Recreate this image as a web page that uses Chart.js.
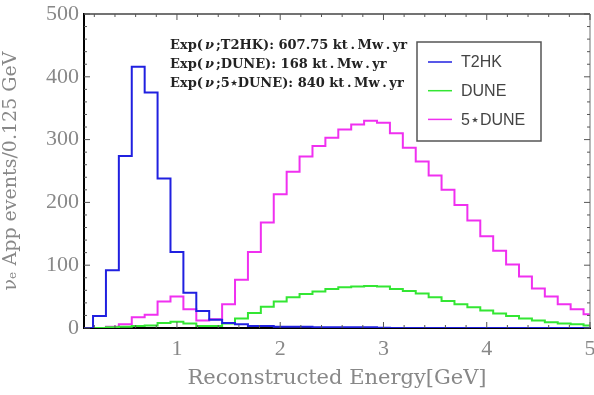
<!DOCTYPE html>
<html>
<head>
<meta charset="utf-8">
<script src="https://cdn.jsdelivr.net/npm/chart.js@4"></script>
<style>
  html, body { margin: 0; padding: 0; background: #fff; }
</style>
</head>
<body>
<canvas id="chart" width="594" height="395"></canvas>
<script>
// bin centres (GeV), bin width 0.125
const energies = [0.125, 0.25, 0.375, 0.5, 0.625, 0.75, 0.875, 1.0, 1.125, 1.25,
  1.375, 1.5, 1.625, 1.75, 1.875, 2.0, 2.125, 2.25, 2.375, 2.5,
  2.625, 2.75, 2.875, 3.0, 3.125, 3.25, 3.375, 3.5, 3.625, 3.75,
  3.875, 4.0, 4.125, 4.25, 4.375, 4.5, 4.625, 4.75, 4.875, 5.0];

const t2hk = [0, 19, 92, 274, 416, 375, 238, 121, 56, 27,
  13, 8, 6, 3, 3, 2, 2, 2, 1, 1,
  1, 1, 1, 0.5, 0, 0, 0, 0, 0, 0,
  0, 0, 0, 0, 0, 0, 0, 0, 0, 0];

const dune = [0, 0, 1, 2, 3, 4, 8, 10, 7, 3,
  3, 7, 15, 24, 34, 42, 49, 54, 58, 62,
  65, 66, 67, 66, 62, 59, 55, 49, 43, 38,
  33, 28, 23, 19, 15, 12, 9, 7, 6, 4];

const dune5 = [0, 0, 2, 6, 17, 21, 42, 50, 30, 12,
  14, 38, 77, 121, 168, 213, 249, 273, 290, 303,
  316, 324, 330, 327, 310, 287, 265, 243, 220, 196,
  171, 146, 123, 101, 82, 63, 50, 38, 30, 22];

const seriesNames = ["T2HK", "DUNE", "5\u22C6DUNE"];
const seriesColors = ["#2020e0", "#33e633", "#f030f0"];
const exposures = [
  ["T2HK", "607.75"],
  ["DUNE", "168"],
  ["5\u22C6DUNE", "840"]
];
const xTicks = [1, 2, 3, 4, 5];
const yTicks = [0, 100, 200, 300, 400, 500];

// turn bin values into step points (left edges + final right edge)
function toSteps(vals) {
  const hw = (energies[1] - energies[0]) / 2;
  const pts = energies.map((e, i) => ({ x: e - hw, y: vals[i] }));
  pts.push({ x: energies[energies.length - 1] + hw, y: vals[vals.length - 1] });
  return pts;
}

const frameTicks = {
  id: "frameTicks",
  afterDatasetsDraw(chart) {
    const { ctx, chartArea: a, scales: { x, y } } = chart;
    ctx.save();
    // top and right frame
    ctx.strokeStyle = "#444";
    ctx.lineWidth = 1.5;
    ctx.beginPath();
    ctx.moveTo(a.left, a.top);
    ctx.lineTo(a.right, a.top);
    ctx.stroke();
    ctx.strokeStyle = "#888";
    ctx.lineWidth = 1.2;
    ctx.beginPath();
    ctx.moveTo(a.right, a.top);
    ctx.lineTo(a.right, a.bottom);
    ctx.stroke();

    // inward ticks
    ctx.strokeStyle = "#555";
    ctx.lineWidth = 1;
    ctx.beginPath();
    for (let k = 0; k <= 25; k++) {
      const py = y.getPixelForValue(k * 20);
      const len = k % 5 === 0 ? 6 : 3;
      ctx.moveTo(a.left, py); ctx.lineTo(a.left + len, py);
      ctx.moveTo(a.right, py); ctx.lineTo(a.right - len, py);
    }
    for (let k = 1; k <= 25; k++) {
      const px = x.getPixelForValue(k * 0.2);
      const len = k % 5 === 0 ? 6 : 3;
      ctx.moveTo(px, a.bottom); ctx.lineTo(px, a.bottom - len);
      ctx.moveTo(px, a.top); ctx.lineTo(px, a.top + len);
    }
    ctx.stroke();
    ctx.restore();
  },
  afterDraw(chart) {
    const ctx = chart.ctx;
    ctx.save();
    // exposure notes
    ctx.fillStyle = "#222";
    ctx.textBaseline = "middle";
    exposures.forEach((e, i) => {
      const ty = 46 + i * 19;
      let tx = 170;
      ctx.font = "bold 13px 'DejaVu Serif'";
      ctx.fillText("Exp(", tx, ty); tx += ctx.measureText("Exp(").width + 2;
      ctx.font = "italic bold 13px 'DejaVu Serif'";
      ctx.fillText("\u03BD", tx, ty); tx += ctx.measureText("\u03BD").width + 2;
      ctx.font = "bold 13px 'DejaVu Serif'";
      ctx.fillText(";" + e[0] + "): " + e[1] + " kt\u2009.\u2009Mw\u2009.\u2009yr", tx, ty);
    });

    // legend box
    ctx.strokeStyle = "#555";
    ctx.lineWidth = 1.5;
    ctx.strokeRect(417, 42, 124, 99);
    ctx.font = "16px 'Liberation Sans'";
    ctx.fillStyle = "#444";
    chart.data.datasets.forEach((ds, i) => {
      const ly = 62 + i * 28.7;
      ctx.strokeStyle = ds.borderColor;
      ctx.lineWidth = 1.5;
      ctx.beginPath();
      ctx.moveTo(428, ly); ctx.lineTo(452, ly);
      ctx.stroke();
      ctx.fillText(ds.label, 461, ly + 1);
    });
    ctx.restore();
  }
};

new Chart(document.getElementById("chart"), {
  type: "line",
  data: {
    datasets: [
      { label: seriesNames[0], data: toSteps(t2hk), borderColor: seriesColors[0] },
      { label: seriesNames[1], data: toSteps(dune), borderColor: seriesColors[1] },
      { label: seriesNames[2], data: toSteps(dune5), borderColor: seriesColors[2] }
    ]
  },
  options: {
    responsive: false,
    animation: false,
    layout: { padding: { top: 14, right: 4, left: 0, bottom: 0 } },
    elements: {
      line: { stepped: "before", borderWidth: 2, fill: false, tension: 0 },
      point: { radius: 0 }
    },
    plugins: { legend: { display: false }, tooltip: { enabled: false } },
    scales: {
      x: {
        type: "linear",
        min: 0.1,
        max: 5,
        afterBuildTicks: s => { s.ticks = xTicks.map(v => ({ value: v })); },
        afterFit: s => { s.height = 67; s.paddingLeft = 0; s.paddingRight = 0; },
        grid: { drawOnChartArea: false, drawTicks: false },
        border: { color: "#000", width: 2 },
        ticks: { padding: 8, maxRotation: 0, color: "#888", font: { family: "'Liberation Serif'", size: 22 } },
        title: { display: true, text: "Reconstructed Energy[GeV]", color: "#888",
          font: { family: "'DejaVu Serif'", size: 21 }, padding: { top: 0 } }
      },
      y: {
        min: 0,
        max: 500,
        afterBuildTicks: s => { s.ticks = yTicks.map(v => ({ value: v })); },
        afterFit: s => { s.width = 84; s.paddingTop = 0; s.paddingBottom = 0; },
        grid: { drawOnChartArea: false, drawTicks: false },
        border: { color: "#000", width: 2 },
        ticks: { padding: 5, color: "#888", font: { family: "'Liberation Serif'", size: 22 } },
        title: { display: true, text: "\u03BD\u2091 App events/0.125 GeV", color: "#888",
          font: { family: "'DejaVu Serif'", size: 19 }, padding: { top: 0, bottom: 0 } }
      }
    }
  },
  plugins: [frameTicks]
});
</script>
</body>
</html>
